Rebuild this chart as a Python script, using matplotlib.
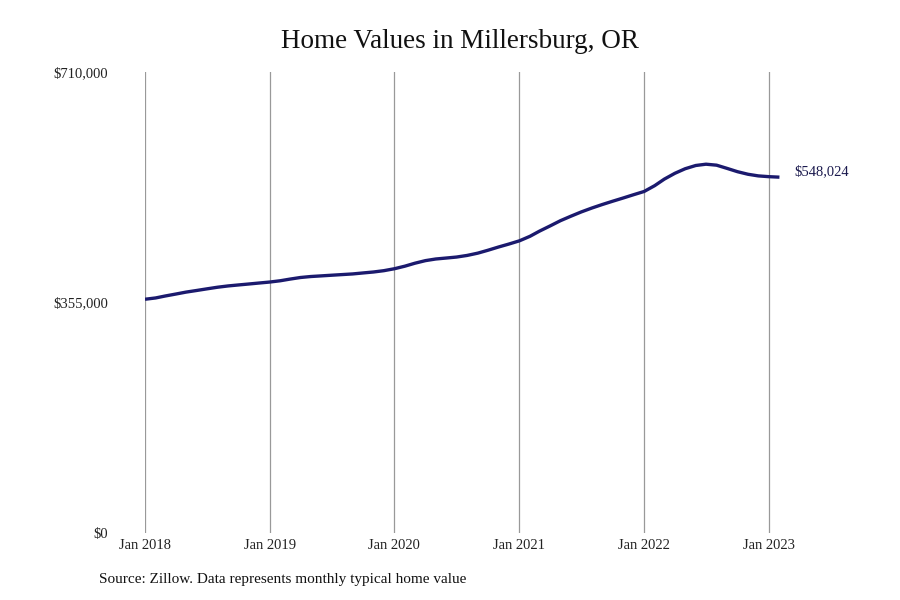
import matplotlib.pyplot as plt
import pandas as pd

plt.rcParams['font.family'] = ['Liberation Serif', 'DejaVu Serif']

# monthly typical home value, Jan 2018 .. Feb 2023
months = pd.date_range('2018-01-01', '2023-02-01', freq='MS')
values = [
    360000, 362000, 365000, 368000, 371000, 373500, 376000, 378500, 380500, 382000, 383500, 385000,
    386500, 388500, 391000, 393500, 395000, 396000, 397000, 398000, 399000, 400500, 402000, 404000,
    407000, 411000, 415500, 419500, 422000, 423500, 425000, 427500, 431000, 435500, 440500, 445000,
    450000, 457000, 465000, 473000, 481000, 488000, 494500, 500500, 506000, 511000, 516000, 521000,
    526000, 535000, 545000, 554000, 561000, 566000, 568000, 566500, 561500, 556500, 552500, 550000,
    548800, 548024,
]
ytick_vals = [0, 355000, 710000]
ytick_labels = ['$0', '$355,000', '$710,000']
xtick_dates = pd.to_datetime(['2018-01-01', '2019-01-01', '2020-01-01',
                              '2021-01-01', '2022-01-01', '2023-01-01'])
xtick_labels = ['Jan 2018', 'Jan 2019', 'Jan 2020', 'Jan 2021', 'Jan 2022', 'Jan 2023']

fig = plt.figure(figsize=(9, 6), dpi=100)
ax = fig.add_axes([145 / 900, 67 / 600, 644 / 900, 461 / 600])

ax.plot(months, values, color='#1b1a6e', lw=2.4, solid_capstyle='butt')

ax.set_xlim(pd.Timestamp('2018-01-01'), pd.Timestamp('2023-03-01'))
ax.set_ylim(0, 710000)
ax.set_xticks(xtick_dates)
ax.set_xticklabels(xtick_labels)
ax.set_yticks(ytick_vals)
ax.set_yticklabels(ytick_labels)
ax.grid(axis='x', color='#999999', lw=0.9)
ax.grid(axis='y', visible=False)
ax.tick_params(length=0, labelsize=10.5, colors='#222222')
ax.tick_params(axis='y', pad=26.5)
ax.tick_params(axis='x', pad=4)
for s in ax.spines.values():
    s.set_visible(False)

ax.annotate('$548,024', xy=(months[-1], values[-1]), xytext=(11, 4),
            textcoords='offset points', va='center', ha='left',
            fontsize=10.5, color='#1b1a4e')

fig.text(460 / 900, 1 - 42 / 600, 'Home Values in Millersburg, OR',
         ha='center', va='center', fontsize=19.5, color='#111111')
fig.text(99 / 900, 1 - 580 / 600, 'Source: Zillow. Data represents monthly typical home value',
         ha='left', va='center', fontsize=11, color='#111111')

fig.savefig('out.png', dpi=100)
